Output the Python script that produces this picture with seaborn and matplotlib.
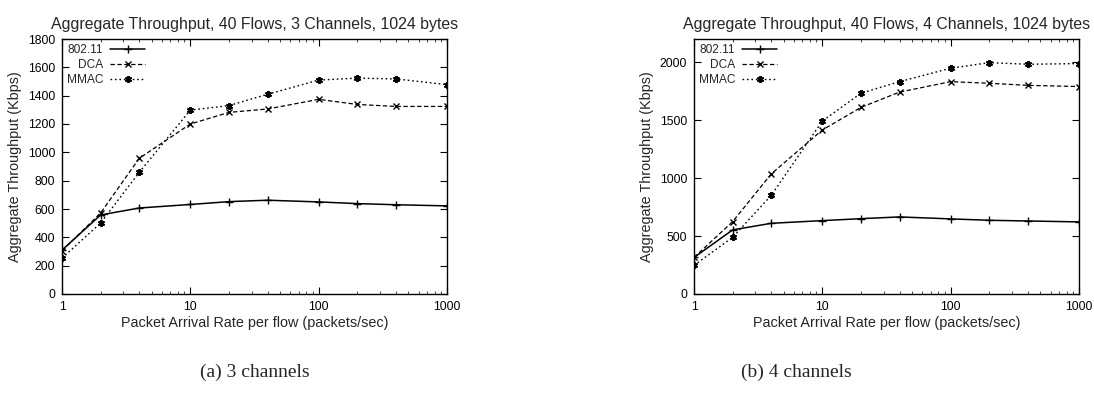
import numpy as np
import pandas as pd
import matplotlib
matplotlib.use("Agg")
import matplotlib.pyplot as plt
import seaborn as sns
from matplotlib.ticker import LogLocator, NullFormatter, FixedLocator, FixedFormatter

rates = [1, 2, 4, 10, 20, 40, 100, 200, 400, 1000]
series_names = ["802.11", "DCA", "MMAC"]

ch3_80211 = [310, 558, 607, 632, 652, 662, 650, 638, 630, 622]
ch3_dca = [305, 572, 958, 1200, 1282, 1306, 1374, 1338, 1324, 1324]
ch3_mmac = [253, 501, 859, 1298, 1330, 1410, 1510, 1524, 1518, 1478]

ch4_80211 = [315, 553, 610, 633, 650, 665, 648, 636, 630, 622]
ch4_dca = [315, 624, 1036, 1415, 1610, 1742, 1832, 1818, 1800, 1790]
ch4_mmac = [247, 489, 851, 1492, 1732, 1832, 1948, 1996, 1982, 1988]

titles = ["Aggregate Throughput, 40 Flows, 3 Channels, 1024 bytes",
          "Aggregate Throughput, 40 Flows, 4 Channels, 1024 bytes"]
captions = ["(a) 3 channels", "(b) 4 channels"]
xlabel = "Packet Arrival Rate per flow (packets/sec)"
ylabel = "Aggregate Throughput (Kbps)"
xticks = [1, 10, 100, 1000]
xticklabels = ["1", "10", "100", "1000"]
yticks_a = list(range(0, 1801, 200))
yticks_b = list(range(0, 2001, 500))

sns.set_style("ticks")
plt.rcParams["font.family"] = ["Liberation Sans", "DejaVu Sans"]

fig = plt.figure(figsize=(10.94, 3.94), dpi=100)
W, H = 1094, 394

def make_ax(x0, x1, y0, y1):
    return fig.add_axes([x0 / W, 1 - y1 / H, (x1 - x0) / W, (y1 - y0) / H])

axA = make_ax(62, 447, 39, 294)
axB = make_ax(694, 1079, 39, 294)

styles = {
    "802.11": dict(linestyle="-", marker="+", ms=6, mew=1.0, lw=1.1),
    "DCA": dict(linestyle=(0, (3.5, 2)), marker="x", ms=5, mew=1.0, lw=0.9),
    "MMAC": dict(linestyle=(0, (1.2, 2)), marker=(6, 2, 0), ms=5, mew=1.4, lw=1.0),
}

def draw(ax, data, title, yticks, ylim):
    for name, vals in zip(series_names, data):
        df = pd.DataFrame({"rate": rates, "tp": vals})
        st = styles[name]
        sns.lineplot(data=df, x="rate", y="tp", ax=ax, color="black", label=name,
                     linestyle=st["linestyle"], marker=st["marker"], markersize=st["ms"],
                     markeredgewidth=st["mew"], markeredgecolor="black", lw=st["lw"])
    ax.set_xscale("log")
    ax.set_xlim(1, 1000)
    ax.set_ylim(*ylim)
    ax.xaxis.set_major_locator(FixedLocator(xticks))
    ax.xaxis.set_major_formatter(FixedFormatter(xticklabels))
    ax.xaxis.set_minor_locator(LogLocator(base=10, subs=np.arange(2, 10)))
    ax.xaxis.set_minor_formatter(NullFormatter())
    ax.set_yticks(yticks)
    ax.tick_params(axis="both", which="major", direction="in", length=5, width=0.8,
                   top=True, right=True, labelsize=8.8, pad=5, colors="black")
    ax.tick_params(axis="x", which="minor", direction="in", length=2.5, width=0.6,
                   top=True, bottom=True)
    for sp in ax.spines.values():
        sp.set_linewidth(1.0)
        sp.set_color("black")
    ax.set_title(title, fontsize=11.4, pad=7)
    ax.set_xlabel(xlabel, fontsize=10.4, labelpad=2)
    ax.set_ylabel(ylabel, fontsize=10.4, labelpad=4)
    leg = ax.legend(loc="upper left", frameon=False, markerfirst=False, fontsize=8.6,
                    handlelength=2.9, handletextpad=0.6, labelspacing=0.25,
                    borderaxespad=0.2, borderpad=0.2)
    return leg

draw(axA, [ch3_80211, ch3_dca, ch3_mmac], titles[0], yticks_a, (0, 1800))
draw(axB, [ch4_80211, ch4_dca, ch4_mmac], titles[1], yticks_b, (0, 2200))

fig.text(255 / W, 1 - 372 / H, captions[0], ha="center", va="center",
         fontsize=14, family=["Liberation Serif", "DejaVu Serif"])
fig.text(796 / W, 1 - 372 / H, captions[1], ha="center", va="center",
         fontsize=14, family=["Liberation Serif", "DejaVu Serif"])

fig.savefig("out.png", dpi=100)
